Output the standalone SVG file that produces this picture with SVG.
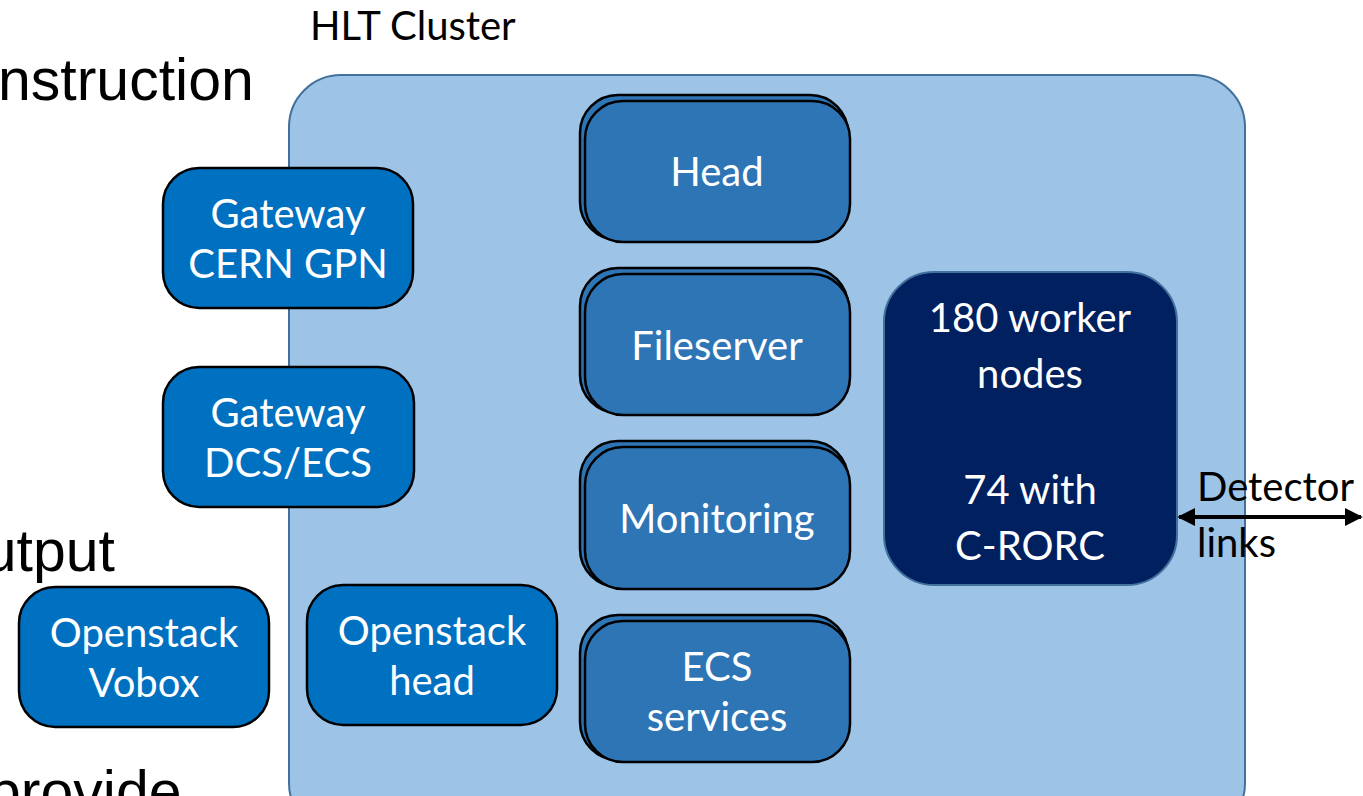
<svg xmlns="http://www.w3.org/2000/svg" width="1363" height="796" viewBox="0 0 1363 796">
<defs>
<style>
.lbl{font-family:Lato,"Open Sans","Noto Sans",sans-serif;font-size:40px;fill:#ffffff;text-anchor:middle}
.blk{font-family:Lato,"Open Sans","Noto Sans",sans-serif;font-size:40px;fill:#000000}
.big{font-family:"Liberation Sans",Arial,sans-serif;font-size:59px;fill:#000000}
.svc{fill:#2E75B6;stroke:#000000;stroke-width:2.5}
.gw{fill:#0070C0;stroke:#000000;stroke-width:2.5}
</style>
<marker id="ah" viewBox="0 0 10 10" refX="9" refY="5" markerWidth="4.5" markerHeight="4.5" orient="auto-start-reverse">
<path d="M0,0 L10,5 L0,10 z" fill="#000000"/>
</marker>
</defs>
<rect width="1363" height="796" fill="#ffffff"/>
<text class="big" x="-2" y="100">nstruction</text>
<text class="big" x="115" y="571" text-anchor="end">Output</text>
<text class="big" x="-12" y="812">provide</text>
<g id="cluster">
<rect x="289" y="75" width="956" height="760" rx="52" fill="#9DC3E6" stroke="#41719C" stroke-width="2"/>
<text class="blk" x="310" y="40">HLT Cluster</text>
</g>
<g id="head">
<rect class="svc" x="580" y="95" width="268" height="145" rx="38"/>
<rect class="svc" x="585" y="101" width="265" height="141" rx="38"/>
<text class="lbl" x="717" y="186">Head</text>
</g>
<g id="fileserver">
<rect class="svc" x="580" y="268" width="268" height="145" rx="38"/>
<rect class="svc" x="585" y="274" width="265" height="141" rx="38"/>
<text class="lbl" x="717" y="360">Fileserver</text>
</g>
<g id="monitoring">
<rect class="svc" x="580" y="441" width="268" height="146" rx="38"/>
<rect class="svc" x="585" y="447" width="265" height="142" rx="38"/>
<text class="lbl" x="717" y="533">Monitoring</text>
</g>
<g id="ecs">
<rect class="svc" x="580" y="615" width="268" height="145" rx="38"/>
<rect class="svc" x="585" y="621" width="265" height="141" rx="38"/>
<text class="lbl" x="717" y="681">ECS</text>
<text class="lbl" x="717" y="731">services</text>
</g>
<g id="gw-gpn">
<rect class="gw" x="163" y="168" width="250" height="140" rx="36"/>
<text class="lbl" x="288" y="228">Gateway</text>
<text class="lbl" x="288" y="278">CERN GPN</text>
</g>
<g id="gw-dcs">
<rect class="gw" x="163" y="367" width="251" height="140" rx="36"/>
<text class="lbl" x="288" y="427">Gateway</text>
<text class="lbl" x="288" y="477">DCS/ECS</text>
</g>
<g id="os-head">
<rect class="gw" x="307" y="585" width="250" height="140" rx="36"/>
<text class="lbl" x="432" y="645">Openstack</text>
<text class="lbl" x="432" y="695">head</text>
</g>
<g id="os-vobox">
<rect class="gw" x="19" y="587" width="250" height="140" rx="36"/>
<text class="lbl" x="144" y="647">Openstack</text>
<text class="lbl" x="144" y="697">Vobox</text>
</g>
<g id="workers">
<rect x="884" y="272" width="293" height="313" rx="50" fill="#002060" stroke="#41719C" stroke-width="2"/>
<text class="lbl" x="1030" y="332">180 worker</text>
<text class="lbl" x="1030" y="388">nodes</text>
<text class="lbl" x="1030" y="504">74 with</text>
<text class="lbl" x="1030" y="560">C-RORC</text>
</g>
<g id="connectors">
<line x1="1179" y1="517" x2="1361" y2="517" stroke="#000000" stroke-width="4" marker-start="url(#ah)" marker-end="url(#ah)"/>
</g>
<g id="detector-label">
<text class="blk" x="1197" y="501">Detector</text>
<text class="blk" x="1197" y="557">links</text>
</g>
</svg>
